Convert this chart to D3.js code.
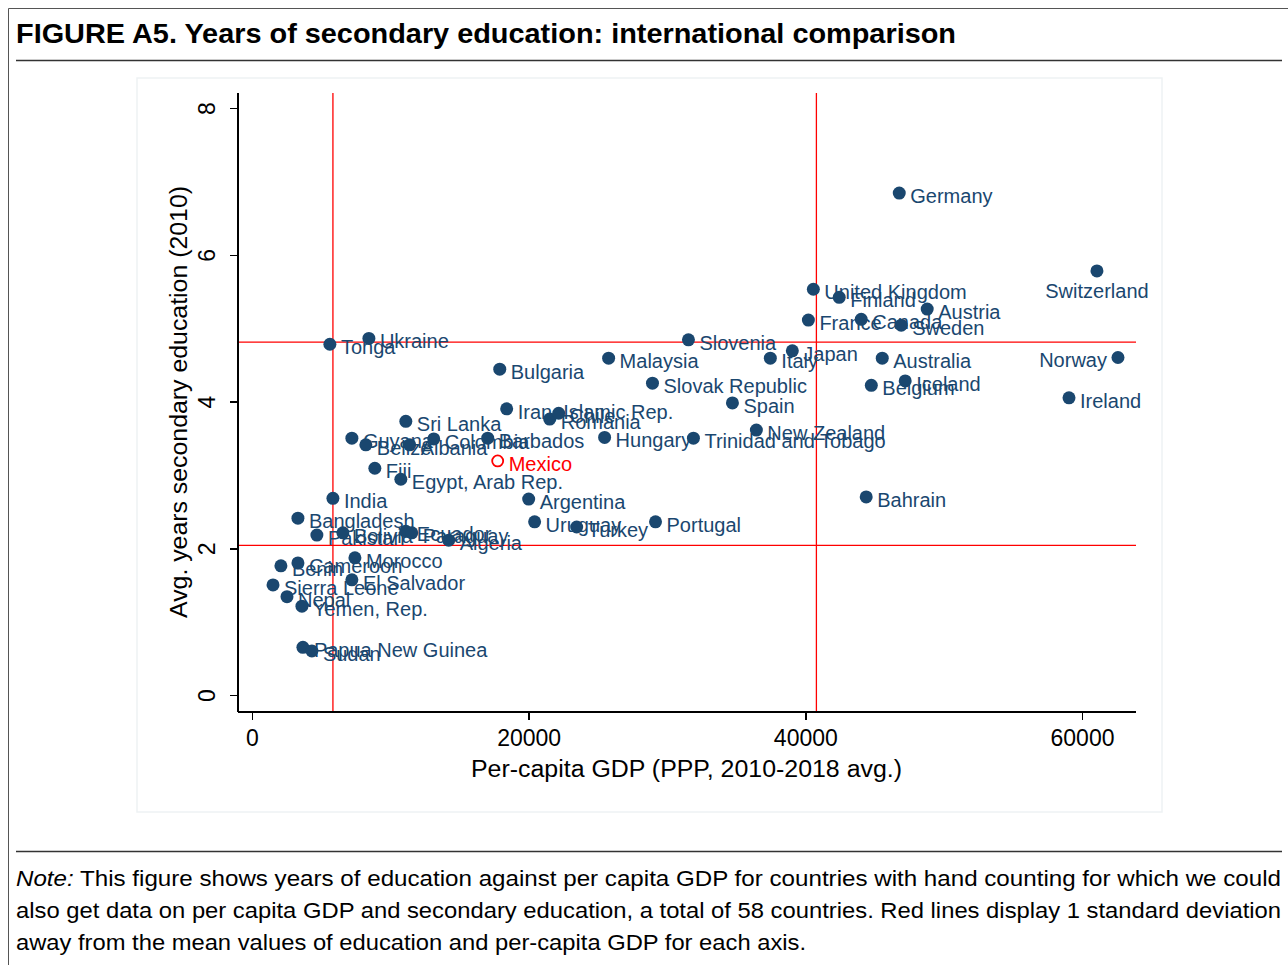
<!doctype html>
<html>
<head>
<meta charset="utf-8">
<title>Years of secondary education: international comparison</title>
<script src="https://d3js.org/d3.v7.min.js"></script>
<style>
body { margin: 0; background: #fff; }
svg text { font-family: "Liberation Sans", Arial, Helvetica, sans-serif; }
.axis path, .axis line { stroke: #000; stroke-width: 1.5px; shape-rendering: crispEdges; }
.axis text { font-size: 23px; fill: #000; }
</style>
</head>
<body>
<svg width="1288" height="965"></svg>
<script>

// data
var countries = ["Germany","Switzerland","United Kingdom","Finland","Austria","France","Canada","Sweden",
  "Slovenia","Japan","Italy","Australia","Norway","Belgium","Iceland","Ireland","Malaysia",
  "Slovak Republic","Spain","New Zealand","Trinidad and Tobago","Hungary","Bulgaria",
  "Iran, Islamic Rep.","Romania","Chile","Barbados","Colombia","Guyana","Belize","Albania",
  "Sri Lanka","Fiji","Egypt, Arab Rep.","Mexico","Argentina","Uruguay","Turkey","Portugal",
  "Bahrain","India","Bangladesh","Pakistan","Bolivia","Ecuador","Paraguay","Algeria",
  "Cameroon","Benin","Morocco","El Salvador","Sierra Leone","Nepal","Yemen, Rep.",
  "Papua New Guinea","Sudan","Tonga","Ukraine"];
var gdp = [46790,61080,40580,42450,48810,40220,44040,46930,
  31550,39060,37470,45560,62600,44770,47220,59060,25780,
  28950,34730,36460,31910,25490,17910,
  18410,21520,22170,17040,13140,7220,8230,11400,
  11120,8880,10760,17760,20000,20430,23470,29170,
  44400,5850,3320,4690,6570,11120,11550,14220,
  3320,2090,7440,7220,1520,2530,3610,
  3680,4330,5630,8450];
var edu = [6.84,5.78,5.53,5.42,5.26,5.11,5.12,5.04,
  4.84,4.69,4.59,4.59,4.60,4.22,4.28,4.05,4.59,
  4.25,3.98,3.61,3.50,3.51,4.44,
  3.90,3.76,3.84,3.50,3.49,3.50,3.41,3.41,
  3.73,3.09,2.94,3.19,2.67,2.36,2.29,2.36,
  2.70,2.68,2.41,2.18,2.21,2.23,2.21,2.11,
  1.80,1.76,1.87,1.57,1.50,1.34,1.21,
  0.65,0.60,4.78,4.86];
var highlight = "Mexico";
var labelClock = { "Switzerland": 6, "Norway": 9 };

// red lines: one standard deviation from the means
var sdGdp = [5850, 40800];
var sdEdu = [2.04, 4.81];

var xTicks = [0, 20000, 40000, 60000];
var yTicks = [0, 2, 4, 6, 8];

var titleText = "FIGURE A5. Years of secondary education: international comparison";
var xTitle = "Per-capita GDP (PPP, 2010-2018 avg.)";
var yTitle = "Avg. years secondary education (2010)";
var noteLines = [
  " This figure shows years of education against per capita GDP for countries with hand counting for which we could",
  "also get data on per capita GDP and secondary education, a total of 58 countries. Red lines display 1 standard deviation",
  "away from the mean values of education and per-capita GDP for each axis."
];
var noteWidths = [1265, 1265, 790];

var navy = "#1a476f";
var svg = d3.select("svg");

// outer frame
svg.append("path")
  .attr("d", "M8.5,965 V8.5 H1288")
  .attr("fill", "none").attr("stroke", "#555").attr("stroke-width", 1);

svg.append("text")
  .attr("x", 16).attr("y", 43)
  .attr("font-size", 28).attr("font-weight", "bold")
  .attr("textLength", 940).attr("lengthAdjust", "spacingAndGlyphs")
  .text(titleText);

svg.append("line").attr("x1", 16).attr("x2", 1282).attr("y1", 60.5).attr("y2", 60.5)
  .attr("stroke", "#333").attr("stroke-width", 1.5);
svg.append("line").attr("x1", 16).attr("x2", 1282).attr("y1", 851.5).attr("y2", 851.5)
  .attr("stroke", "#333").attr("stroke-width", 1.5);

// faint graph region border
svg.append("rect")
  .attr("x", 137).attr("y", 78).attr("width", 1025).attr("height", 734)
  .attr("fill", "none").attr("stroke", "#eef2f4").attr("stroke-width", 1.5);

var x = d3.scaleLinear().domain([0, 60000]).range([252, 1082]);
var y = d3.scaleLinear().domain([0, 8]).range([695, 108]);
var xMin = x.invert(238), xMax = x.invert(1136);
var yMin = y.invert(712), yMax = y.invert(93);

// reference lines
var g = svg.append("g");
g.selectAll(".vref").data(sdGdp).enter().append("line")
  .attr("x1", function(d) { return x(d); }).attr("x2", function(d) { return x(d); })
  .attr("y1", y(yMin)).attr("y2", y(yMax))
  .attr("stroke", "#ff0000").attr("stroke-width", 1.3);
g.selectAll(".href").data(sdEdu).enter().append("line")
  .attr("x1", x(xMin)).attr("x2", x(xMax))
  .attr("y1", function(d) { return y(d); }).attr("y2", function(d) { return y(d); })
  .attr("stroke", "#ff0000").attr("stroke-width", 1.3);

// axes
var xAxis = svg.append("g").attr("class", "axis")
  .attr("transform", "translate(0," + y(yMin) + ")")
  .call(d3.axisBottom(x).tickValues(xTicks).tickSize(8).tickPadding(10).tickFormat(d3.format("d")));
xAxis.select(".domain").attr("d", "M" + x(xMin) + ",0H" + x(xMax));

var yAxis = svg.append("g").attr("class", "axis")
  .attr("transform", "translate(" + x(xMin) + ",0)")
  .call(d3.axisLeft(y).tickValues(yTicks).tickSize(8).tickFormat(d3.format("d")));
yAxis.select(".domain").attr("d", "M0," + y(yMin) + "V" + y(yMax));
yAxis.selectAll(".tick text")
  .attr("x", null).attr("dy", null)
  .attr("text-anchor", "middle")
  .attr("transform", "translate(-31,0) rotate(-90)")
  .attr("dy", "0.35em");

svg.append("text")
  .attr("x", 471).attr("y", 777)
  .attr("font-size", 23)
  .attr("textLength", 431).attr("lengthAdjust", "spacingAndGlyphs")
  .text(xTitle);
svg.append("text")
  .attr("transform", "translate(187,618) rotate(-90)")
  .attr("font-size", 23)
  .attr("textLength", 432).attr("lengthAdjust", "spacingAndGlyphs")
  .text(yTitle);

// points and labels
var pts = countries.map(function(c, i) { return { name: c, gdp: gdp[i], edu: edu[i] }; });
var node = svg.append("g").selectAll("g").data(pts).enter().append("g")
  .attr("transform", function(d) { return "translate(" + x(d.gdp) + "," + y(d.edu) + ")"; });

node.append("circle")
  .attr("r", function(d) { return d.name === highlight ? 5.5 : 6.5; })
  .attr("fill", function(d) { return d.name === highlight ? "none" : navy; })
  .attr("stroke", function(d) { return d.name === highlight ? "#ff0000" : "none"; })
  .attr("stroke-width", 1.8);

node.append("text")
  .attr("font-size", 20)
  .attr("fill", function(d) { return d.name === highlight ? "#ff0000" : navy; })
  .attr("text-anchor", function(d) {
    var p = labelClock[d.name] || 3;
    return p === 9 ? "end" : p === 6 ? "middle" : "start";
  })
  .attr("x", function(d) {
    var p = labelClock[d.name] || 3;
    return p === 9 ? -11 : p === 6 ? 0 : 11;
  })
  .attr("y", function(d) {
    var p = labelClock[d.name] || 3;
    return p === 6 ? 27 : 10;
  })
  .text(function(d) { return d.name; });

// note
var note = svg.append("g").attr("font-size", 22);
noteLines.forEach(function(line, i) {
  var t = note.append("text").attr("x", 16).attr("y", 886 + i * 32)
    .attr("textLength", noteWidths[i]).attr("lengthAdjust", "spacingAndGlyphs");
  if (i === 0) t.append("tspan").attr("font-style", "italic").text("Note:");
  t.append("tspan").text(line);
});

</script>
</body>
</html>
